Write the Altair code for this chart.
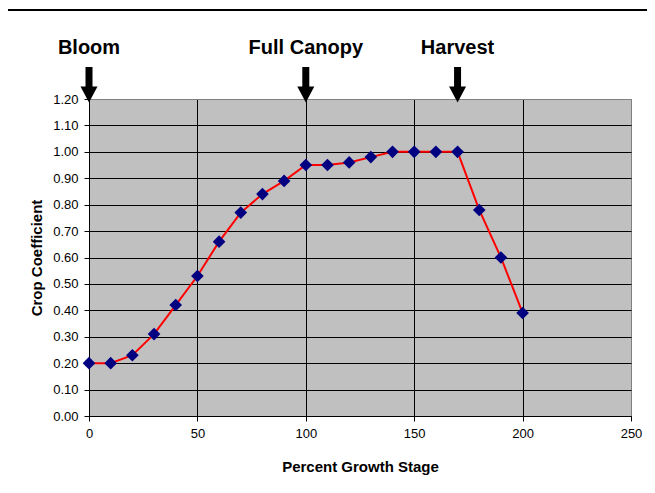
import altair as alt
import pandas as pd

# Data
stage = [0, 10, 20, 30, 40, 50, 60, 70, 80, 90, 100, 110, 120, 130, 140, 150, 160, 170, 180, 190, 200]
coef = [0.20, 0.20, 0.23, 0.31, 0.42, 0.53, 0.66, 0.77, 0.84, 0.89, 0.95, 0.95, 0.96, 0.98, 1.00,
        1.00, 1.00, 1.00, 0.78, 0.60, 0.39]
event_labels = ["Bloom", "Full Canopy", "Harvest"]
event_stage = [0, 100, 170]
x_ticks = [0, 50, 100, 150, 200, 250]
y_ticks = [0.0, 0.1, 0.2, 0.3, 0.4, 0.5, 0.6, 0.7, 0.8, 0.9, 1.0, 1.1, 1.2]

FONT = "Liberation Sans"

df = pd.DataFrame({"stage": stage, "coef": coef})
ev = pd.DataFrame({"label": event_labels, "stage": event_stage})
one = pd.DataFrame({"a": [0]})

xscale = alt.Scale(domain=[0, 250], nice=False, zero=False)
yscale = alt.Scale(domain=[0, 1.2], nice=False)

x_axis = alt.Axis(
    values=x_ticks, title="Percent Growth Stage", grid=True,
    gridColor={"condition": {"test": "datum.value >= 250", "value": "#808080"}, "value": "black"},
    gridWidth=1, domainColor="black", tickColor="black", tickSize=5,
    labelFont=FONT, labelFontSize=13, labelColor="black", labelPadding=6,
    titleFont=FONT, titleFontSize=15, titleFontWeight="bold", titleColor="black",
    titleY=50, titleBaseline="middle", labelFlush=False, labelOverlap=False,
)
y_axis = alt.Axis(
    values=y_ticks, format=".2f", title="Crop Coefficient", grid=True,
    gridColor={"condition": {"test": "datum.value >= 1.2", "value": "#808080"}, "value": "black"},
    gridWidth=1, domainColor="black", tickColor="black", tickSize=5,
    labelFont=FONT, labelFontSize=13, labelColor="black", labelPadding=6,
    titleFont=FONT, titleFontSize=15, titleFontWeight="bold", titleColor="black",
    titleX=-53, titleBaseline="middle", labelFlush=False, labelOverlap=False,
)

X = alt.X("stage:Q", scale=xscale, axis=x_axis)
Y = alt.Y("coef:Q", scale=yscale, axis=y_axis)

line = alt.Chart(df).mark_line(color="#FF0000", strokeWidth=2).encode(x=X, y=Y)
pts = alt.Chart(df).mark_point(
    shape="diamond", filled=True, color="#000080", size=160, opacity=1
).encode(x=X, y=Y)

labels = alt.Chart(ev).mark_text(
    font=FONT, fontSize=20, fontWeight="bold", color="black", baseline="middle", align="center"
).encode(
    x=X,
    y=alt.value(-51),
    text="label:N",
)
shafts = alt.Chart(ev).mark_rule(color="black", strokeWidth=7).encode(
    x=X,
    y=alt.value(-32),
    y2=alt.value(-11),
)
heads = alt.Chart(ev).mark_point(
    shape="M-1,-0.94L1,-0.94L0,0.94Z", filled=True, color="black", size=289, opacity=1
).encode(
    x=X,
    y=alt.value(-4.5),
)

frame_left = alt.Chart(one).mark_rule(color="black", strokeWidth=1.5).encode(
    x=alt.value(-82), y=alt.value(-89), y2=alt.value(420)
)
frame_top = alt.Chart(one).mark_rule(color="black", strokeWidth=2).encode(
    x=alt.value(-82), x2=alt.value(600), y=alt.value(-89)
)

chart = alt.layer(line, pts, labels, shafts, heads, frame_left, frame_top).properties(
    width=542, height=317,
    autosize=alt.AutoSizeParams(type="none"),
    padding={"left": 81, "top": 91, "right": 16, "bottom": 69},
    background="white",
).configure_view(fill="#C0C0C0", stroke="#808080", strokeWidth=1)

chart.save("out.html", embed_options={"renderer": "svg", "actions": False})
